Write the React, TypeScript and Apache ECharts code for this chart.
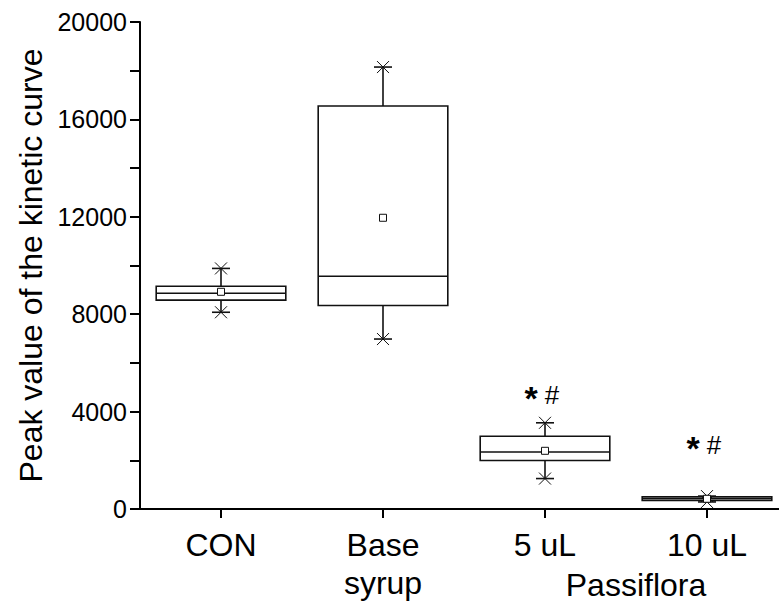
import React, { useEffect, useRef } from "react";
import * as echarts from "echarts";

// ---- data ----
const categories = ["CON", "Base\nsyrup", "5 uL", "10 uL"];
const positions = [1, 2, 3, 4];
const whiskerMin = [8080, 6980, 1250, 290];
const q1 = [8580, 8360, 1990, 350];
const median = [8860, 9560, 2340, 420];
const q3 = [9150, 16550, 2990, 500];
const whiskerMax = [9880, 18150, 3540, 530];
const mean = [8920, 11960, 2390, 420];
const annotationValue = [null, null, 4680, 2630];
const yTicks = [0, 4000, 8000, 12000, 16000, 20000];
const groupLabel = "Passiflora";

const FONT = "'Liberation Sans', Arial, Helvetica, sans-serif";

export default function App() {
  const ref = useRef<HTMLDivElement>(null);
  useEffect(() => {
    if (!ref.current) return;
    const chart = echarts.init(ref.current, null, { renderer: "svg" });
    const data = positions.map((p, i) => [
      p,
      whiskerMin[i],
      q1[i],
      median[i],
      q3[i],
      whiskerMax[i],
      mean[i],
      annotationValue[i] == null ? -1 : annotationValue[i],
    ]);
    const stroke = "#111";
    chart.setOption({
      animation: false,
      backgroundColor: "#fff",
      grid: { left: 140, right: 0, top: 22, bottom: 93, containLabel: false },
      xAxis: {
        type: "value",
        min: 0.5,
        max: 0.5 + 639 / 162,
        splitLine: { show: false },
        axisLine: { show: true, onZero: false, lineStyle: { color: "#000", width: 2 } },
        axisTick: { show: true, customValues: positions, length: 9, lineStyle: { color: "#000", width: 2 } },
        axisLabel: {
          customValues: positions,
          formatter: (v: number) => categories[Math.round(v) - 1] ?? "",
          fontSize: 32,
          lineHeight: 38,
          margin: 17,
          color: "#000",
          fontFamily: FONT,
        },
      },
      yAxis: {
        type: "value",
        min: 0,
        max: 20000,
        interval: 2000,
        splitLine: { show: false },
        axisLine: { show: true, lineStyle: { color: "#000", width: 2 } },
        axisTick: { show: true, length: 10, lineStyle: { color: "#000", width: 2 } },
        axisLabel: {
          formatter: (v: number) => (yTicks.includes(v) ? String(v) : ""),
          fontSize: 25,
          margin: 13,
          color: "#000",
          fontFamily: FONT,
        },
        name: "Peak value of the kinetic curve",
        nameLocation: "middle",
        nameGap: 57,
        nameTextStyle: { fontSize: 32, color: "#000", fontFamily: FONT },
      },
      graphic: [
        {
          type: "text",
          x: 636,
          y: 585,
          style: { text: groupLabel, fontSize: 32, fill: "#000", fontFamily: FONT, align: "center", verticalAlign: "middle" },
        },
      ],
      series: [
        {
          type: "custom",
          clip: false,
          encode: { x: 0, y: [1, 2, 3, 4, 5] },
          data,
          renderItem: (params: any, api: any) => {
            const x = api.value(0);
            const cx = api.coord([x, 0])[0];
            const y = (k: number) => api.coord([x, api.value(k)])[1];
            const halfW = api.size([0.8, 0])[0] / 2;
            const yMin = y(1), yQ1 = y(2), yMed = y(3), yQ3 = y(4), yMax = y(5), yMean = y(6);
            const ls = { stroke, lineWidth: 1.6, fill: "none" };
            const capW = 9;
            const xs = 6;
            const children: any[] = [
              { type: "line", shape: { x1: cx, y1: yQ3, x2: cx, y2: yMax }, style: ls },
              { type: "line", shape: { x1: cx, y1: yQ1, x2: cx, y2: yMin }, style: ls },
              { type: "rect", shape: { x: cx - halfW, y: yQ3, width: 2 * halfW, height: yQ1 - yQ3 }, style: { ...ls, fill: "#fff" } },
              { type: "line", shape: { x1: cx - halfW, y1: yMed, x2: cx + halfW, y2: yMed }, style: ls },
            ];
            for (const yy of [yMax, yMin]) {
              children.push({ type: "line", shape: { x1: cx - capW, y1: yy, x2: cx + capW, y2: yy }, style: ls });
              children.push({ type: "line", shape: { x1: cx - xs, y1: yy - xs, x2: cx + xs, y2: yy + xs }, style: { stroke, lineWidth: 1 } });
              children.push({ type: "line", shape: { x1: cx - xs, y1: yy + xs, x2: cx + xs, y2: yy - xs }, style: { stroke, lineWidth: 1 } });
            }
            children.push({ type: "rect", shape: { x: cx - 3.5, y: yMean - 3.5, width: 7, height: 7 }, style: { stroke, lineWidth: 1, fill: "#fff" } });
            const av = api.value(7);
            if (av >= 0) {
              const ay = api.coord([x, av])[1];
              children.push({ type: "text", style: { text: "*", x: cx - 14, y: ay + 3, fontSize: 34, fontWeight: "bold", fill: "#000", fontFamily: FONT, align: "center", verticalAlign: "middle" } });
              children.push({ type: "text", style: { text: "#", x: cx + 7, y: ay, fontSize: 26, fill: "#000", fontFamily: FONT, align: "center", verticalAlign: "middle" } });
            }
            return { type: "group", children };
          },
        },
      ],
    });
    return () => chart.dispose();
  }, []);
  return <div ref={ref} style={{ position: "fixed", left: 0, top: 0, width: 779, height: 602 }} />;
}
